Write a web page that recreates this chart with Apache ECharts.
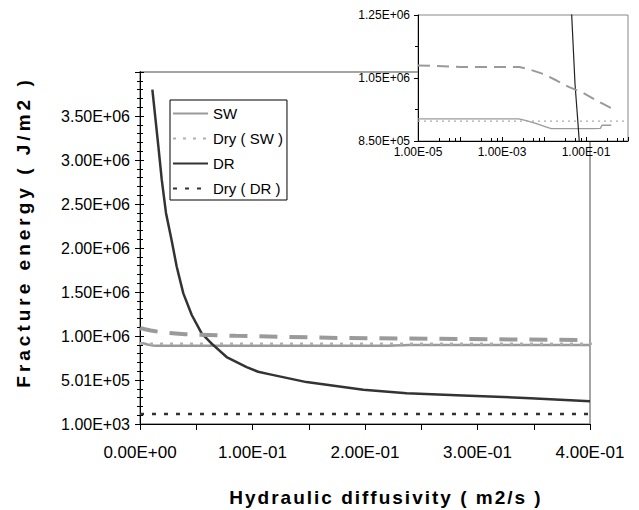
<!DOCTYPE html>
<html>
<head>
<meta charset="utf-8">
<script src="https://cdn.jsdelivr.net/npm/echarts@6/dist/echarts.min.js"></script>
<style>
  html, body { margin: 0; padding: 0; background: #fff; }
  #main { width: 639px; height: 510px; }
</style>
</head>
<body>
<div id="main"></div>
<script>
// ---- data ----
var swX   = [0.00001, 0.0001, 0.001, 0.0025, 0.0038, 0.0066, 0.0115, 0.015, 0.05, 0.1, 0.15, 0.22, 0.24, 0.3, 0.4];
var swY   = [920000, 920000, 920000, 920000, 915000, 905000, 894000, 889000, 889000, 889000, 889000, 890000, 900000, 900000, 900000];

var dashX = [0.00001, 0.0001, 0.001, 0.0026, 0.0046, 0.0095, 0.02, 0.04, 0.085, 0.177, 0.4];
var dashY = [1090000, 1085000, 1085000, 1085000, 1077000, 1063000, 1042000, 1021000, 1003000, 979000, 954000];

var drX   = [0.011, 0.0163, 0.0193, 0.0231, 0.0281, 0.0326, 0.0385, 0.046, 0.0548, 0.0637, 0.077, 0.0948, 0.105, 0.1156, 0.148, 0.1985, 0.237, 0.287, 0.347, 0.4];
var drY   = [3800000, 3160000, 2780000, 2400000, 2090000, 1790000, 1485000, 1240000, 1030000, 915000, 762000, 648000, 595000, 565000, 477000, 390000, 351000, 325000, 295000, 260000];

var dryX    = [0.00001, 1];
var drySwY  = [913000, 913000];
var dryDrY  = [116000, 116000];

var legendNames = ['SW', 'Dry ( SW )', 'DR', 'Dry ( DR )'];
var xTitle = 'Hydraulic diffusivity ( m2/s )';
var yTitle = 'Fracture energy ( J/m2 )';

function pairs(xs, ys) {
    return xs.map(function (x, i) { return [x, ys[i]]; });
}
// excel style 1.00E+06
function sci(v) {
    var p = Number(v).toExponential(2).split('e');
    var e = parseInt(p[1], 10);
    return p[0] + 'E' + (e < 0 ? '-' : '+') + (Math.abs(e) < 10 ? '0' : '') + Math.abs(e);
}

var font = "'Liberation Sans', Arial, sans-serif";
var dom = document.getElementById('main');
var chart = echarts.init(dom, null, { renderer: 'svg' });

function mainYAxis(inner) {
    return {
        gridIndex: 0, type: 'value', position: 'left', min: 1000, max: 4001000, interval: 500000,
        axisLine: { show: true, lineStyle: { color: '#000', width: 1 } },
        axisTick: { show: true, inside: inner, length: inner ? 4 : 5, lineStyle: { color: '#000' } },
        minorTick: { show: true, splitNumber: 5, length: 3, lineStyle: { color: '#000', width: 1 } },
        splitLine: { show: false },
        axisLabel: {
            show: !inner,
            margin: 10, fontFamily: font, fontSize: 16, color: '#000',
            showMaxLabel: false,
            formatter: function (v) { return v > 3900000 ? '' : sci(v); }
        }
    };
}

var option = {
    backgroundColor: '#fff',
    animation: false,
    legend: {
        data: legendNames,
        orient: 'vertical',
        left: 170,
        top: 100,
        itemWidth: 35,
        itemHeight: 14,
        itemGap: 10,
        padding: [6, 4, 4, 2],
        borderColor: '#000',
        borderWidth: 1,
        itemStyle: { opacity: 0 },
        textStyle: { fontFamily: font, fontSize: 15, color: '#000' }
    },
    grid: [
        { left: 140, top: 72, right: 49, bottom: 86, show: true, borderColor: '#888', borderWidth: 1.5, backgroundColor: 'transparent' },
        { left: 418, top: 15, right: 11, bottom: 369, show: true, borderColor: '#888', borderWidth: 1, backgroundColor: '#fff', z: 10 }
    ],
    xAxis: [
        {
            gridIndex: 0, type: 'value', min: 0, max: 0.4, interval: 0.05,
            axisLine: { lineStyle: { color: '#000', width: 1 } },
            axisTick: { length: 6, lineStyle: { color: '#000' } },
            splitLine: { show: false },
            axisLabel: {
                margin: 20, fontFamily: font, fontSize: 17, color: '#000',
                formatter: function (v) {
                    return Math.round(v * 100) % 10 === 0 ? sci(v) : '';
                }
            }
        },
        {
            gridIndex: 1, type: 'log', logBase: 10, min: 0.00001, max: 1, z: 11,
            axisLine: { lineStyle: { color: '#000', width: 1 } },
            axisTick: { inside: true, length: 4, lineStyle: { color: '#000' } },
            minorTick: { show: true, splitNumber: 4, length: 3, lineStyle: { color: '#000' } },
            splitLine: { show: false },
            axisLabel: {
                margin: 5, fontFamily: font, fontSize: 12, color: '#000',
                formatter: function (v) {
                    var e = Math.round(Math.log(v) / Math.LN10);
                    return (e === -5 || e === -3 || e === -1) ? sci(v) : '';
                }
            }
        }
    ],
    yAxis: [
        mainYAxis(false),
        {
            gridIndex: 1, type: 'value', min: 850000, max: 1250000, interval: 200000, z: 11,
            axisLine: { show: true, lineStyle: { color: '#000', width: 1 } },
            axisTick: { show: true, length: 4, lineStyle: { color: '#000' } },
            minorTick: { show: true, splitNumber: 2, length: 3, lineStyle: { color: '#000' } },
            splitLine: { show: false },
            axisLabel: { margin: 8, fontFamily: font, fontSize: 12, color: '#000', formatter: sci }
        },
        // same scale again with inward ticks, so the ticks cross the axis line
        mainYAxis(true)
    ],
    series: [
        // main chart
        { name: 'SW', type: 'line', xAxisIndex: 0, yAxisIndex: 0, symbol: 'none', data: pairs(swX, swY),
          lineStyle: { color: '#9a9a9a', width: 2.5 }, itemStyle: { color: '#9a9a9a' } },
        { name: 'Dry ( SW )', type: 'line', xAxisIndex: 0, yAxisIndex: 0, symbol: 'none', data: pairs(dryX, drySwY),
          lineStyle: { color: '#b0b0b0', width: 2.5, type: [3, 7] }, itemStyle: { color: '#b0b0b0' } },
        { name: 'DR', type: 'line', xAxisIndex: 0, yAxisIndex: 0, symbol: 'none', data: pairs(drX, drY),
          lineStyle: { color: '#333', width: 2.5, join: 'round' }, itemStyle: { color: '#333' } },
        { name: 'Dry ( DR )', type: 'line', xAxisIndex: 0, yAxisIndex: 0, symbol: 'none', data: pairs(dryX, dryDrY),
          lineStyle: { color: '#333', width: 2.5, type: [4, 8] }, itemStyle: { color: '#333' } },
        { name: 'SW wet', type: 'line', xAxisIndex: 0, yAxisIndex: 0, symbol: 'none', data: pairs(dashX, dashY),
          lineStyle: { color: '#9a9a9a', width: 4, type: [18, 12] }, itemStyle: { color: '#9a9a9a' } },
        // inset
        { name: 'SW', type: 'line', xAxisIndex: 1, yAxisIndex: 1, symbol: 'none', z: 12, data: pairs(swX, swY),
          lineStyle: { color: '#9a9a9a', width: 1.3 } },
        { name: 'Dry ( SW )', type: 'line', xAxisIndex: 1, yAxisIndex: 1, symbol: 'none', z: 12, data: pairs(dryX, drySwY),
          lineStyle: { color: '#aaa', width: 1.2, type: [2, 4] } },
        { name: 'DR', type: 'line', xAxisIndex: 1, yAxisIndex: 1, symbol: 'none', z: 12, data: pairs(drX, drY),
          lineStyle: { color: '#222', width: 1.2 } },
        { name: 'Dry ( DR )', type: 'line', xAxisIndex: 1, yAxisIndex: 1, symbol: 'none', z: 12, data: pairs(dryX, dryDrY),
          lineStyle: { color: '#333', width: 1.2, type: [2, 4] } },
        { name: 'SW wet', type: 'line', xAxisIndex: 1, yAxisIndex: 1, symbol: 'none', z: 12, data: pairs(dashX, dashY),
          lineStyle: { color: '#9a9a9a', width: 2, type: [12, 7] } }
    ],
    graphic: [
        { type: 'text', x: 386, y: 497, z: 20,
          style: { text: xTitle, fill: '#000', font: 'bold 19px ' + font, textAlign: 'center', textVerticalAlign: 'middle' } },
        { type: 'text', x: 23, y: 232, rotation: Math.PI / 2, z: 20,
          style: { text: yTitle, fill: '#000', font: 'bold 19px ' + font, textAlign: 'center', textVerticalAlign: 'middle' } }
    ]
};

chart.setOption(option);

// the figure's axis titles are set with wide letter spacing
function spaceTitles() {
    var texts = dom.querySelectorAll('text');
    for (var i = 0; i < texts.length; i++) {
        if (texts[i].textContent === xTitle) texts[i].setAttribute('letter-spacing', '2');
        if (texts[i].textContent === yTitle) texts[i].setAttribute('letter-spacing', '4');
    }
}
spaceTitles();
chart.on('finished', spaceTitles);
</script>
</body>
</html>
